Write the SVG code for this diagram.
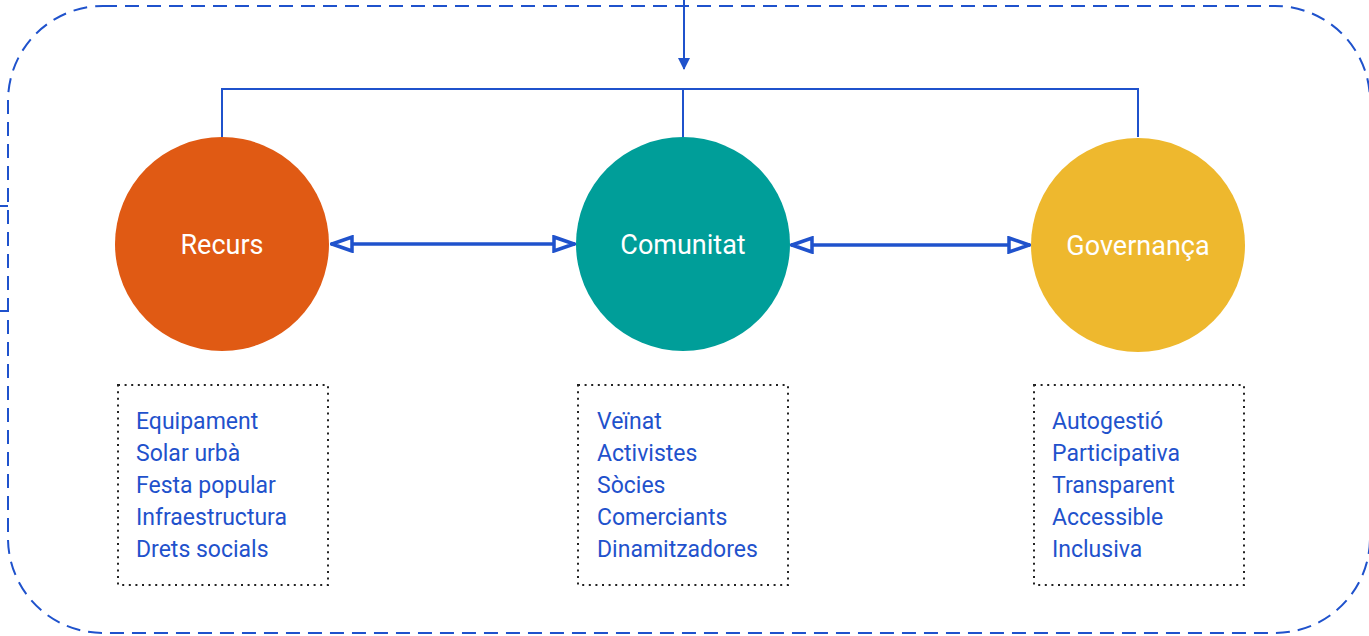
<svg xmlns="http://www.w3.org/2000/svg" width="1369" height="636" viewBox="0 0 1369 636">
<style>
.frame{fill:none;stroke:#1F52CC;stroke-width:2;stroke-dasharray:14 8}
.ln{fill:none;stroke:#1F52CC;stroke-width:2}
.dbl{fill:none;stroke:#1F52CC;stroke-width:3.5}
.box{fill:none;stroke:#222;stroke-width:2;stroke-dasharray:2 4.6}
.lbl{font-family:Roboto,"Noto Sans",sans-serif;font-size:27px;fill:#fff;text-anchor:middle}
.item{font-family:Roboto,"Noto Sans",sans-serif;font-size:23px;fill:#1F52CC}
</style>
<defs>
<marker id="fa" viewBox="0 0 12 12" refX="11" refY="6" markerWidth="12" markerHeight="12" markerUnits="userSpaceOnUse" orient="auto"><path d="M0,0 L12,6 L0,12 Z" fill="#1F52CC"/></marker>
<marker id="oa" viewBox="0 0 24 18" refX="23" refY="9" markerWidth="24" markerHeight="18" markerUnits="userSpaceOnUse" orient="auto-start-reverse"><path d="M2,2 L22,9 L2,16 Z" fill="#fff" stroke="#1F52CC" stroke-width="3.5"/></marker>
</defs>
<rect class="frame" x="8" y="6" width="1362" height="627" rx="95" ry="95"/>
<g id="connectors">
<line class="ln" x1="0" y1="206" x2="8" y2="206"/>
<line class="ln" x1="0" y1="311" x2="8" y2="311"/>
<line class="ln" x1="684" y1="0" x2="684" y2="69" marker-end="url(#fa)"/>
<polyline class="ln" points="222,137 222,89 1138,89 1138,137"/>
<line class="ln" x1="683" y1="89" x2="683" y2="137"/>
<line class="dbl" x1="331" y1="244" x2="575" y2="244" marker-start="url(#oa)" marker-end="url(#oa)"/>
<line class="dbl" x1="791" y1="245" x2="1030" y2="245" marker-start="url(#oa)" marker-end="url(#oa)"/>
</g>
<g id="recurs">
<circle cx="222" cy="244" r="107" fill="#E05A14"/>
<text class="lbl" x="222" y="254">Recurs</text>
</g>
<g id="comunitat">
<circle cx="683" cy="244" r="107" fill="#009E99"/>
<text class="lbl" x="683" y="254">Comunitat</text>
</g>
<g id="governanca">
<circle cx="1138" cy="245" r="107" fill="#EEB82E"/>
<text class="lbl" x="1138" y="255">Governança</text>
</g>
<g id="recurs-list">
<rect class="box" x="118" y="385" width="210" height="200"/>
<text class="item" x="136" y="429">Equipament</text>
<text class="item" x="136" y="461">Solar urbà</text>
<text class="item" x="136" y="493">Festa popular</text>
<text class="item" x="136" y="525">Infraestructura</text>
<text class="item" x="136" y="557">Drets socials</text>
</g>
<g id="comunitat-list">
<rect class="box" x="578" y="385" width="210" height="200"/>
<text class="item" x="597" y="429">Veïnat</text>
<text class="item" x="597" y="461">Activistes</text>
<text class="item" x="597" y="493">Sòcies</text>
<text class="item" x="597" y="525">Comerciants</text>
<text class="item" x="597" y="557">Dinamitzadores</text>
</g>
<g id="governanca-list">
<rect class="box" x="1034" y="385" width="210" height="200"/>
<text class="item" x="1052" y="429">Autogestió</text>
<text class="item" x="1052" y="461">Participativa</text>
<text class="item" x="1052" y="493">Transparent</text>
<text class="item" x="1052" y="525">Accessible</text>
<text class="item" x="1052" y="557">Inclusiva</text>
</g>
</svg>
